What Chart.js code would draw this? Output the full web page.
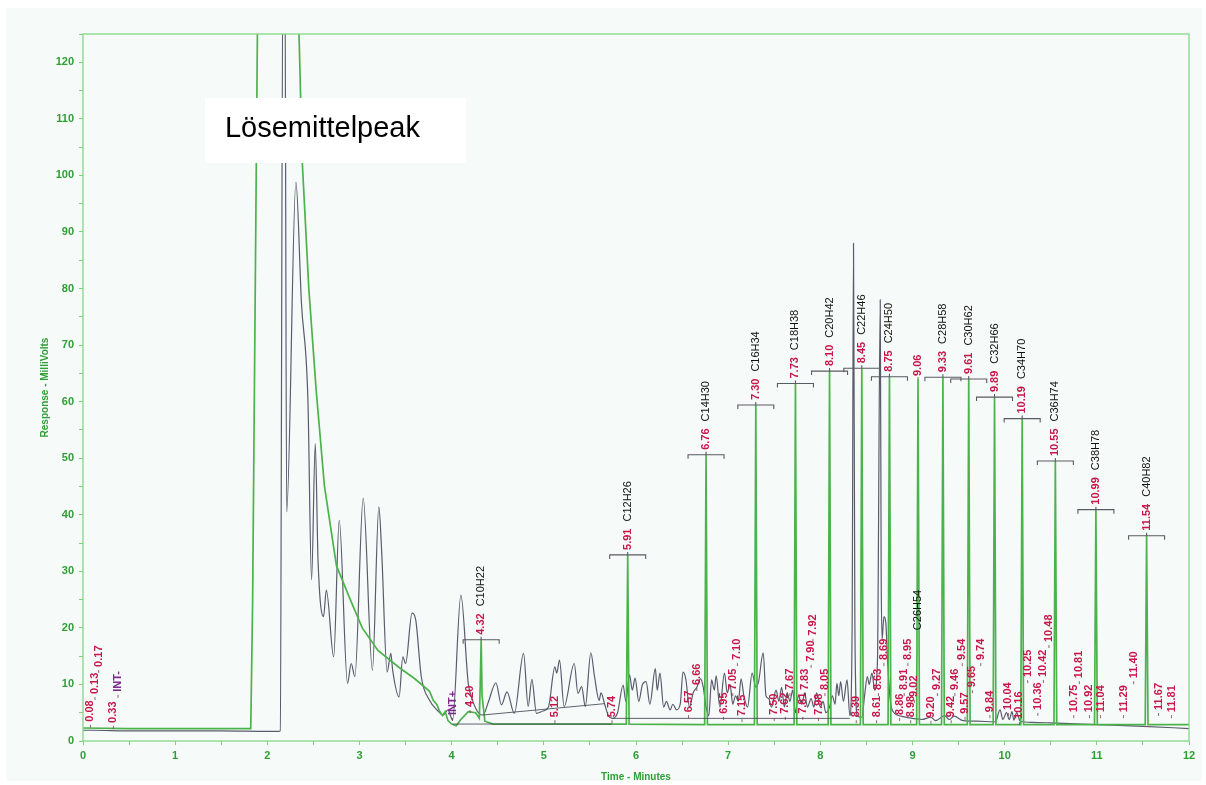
<!DOCTYPE html>
<html><head><meta charset="utf-8">
<script src="https://cdn.jsdelivr.net/npm/chart.js@4.4.1/dist/chart.umd.min.js"></script>
<style>html,body{margin:0;padding:0;background:#fff;}#wrap{width:1206px;height:785px;}</style>
</head><body><div id="wrap"><canvas id="c" width="1206" height="785"></canvas></div>
<script>
// ---------- DATA ----------
// sample chromatogram (dark trace): time in minutes, response in mV
const sampleTime = [0,0.1,0.5,1.0,1.5,2.0,2.12,2.14,2.17,2.19,2.21,2.31,2.37,2.44,2.48,2.52,2.55,2.61,2.64,2.72,2.78,2.87,2.91,2.95,3.04,3.14,3.21,3.24,3.30,3.34,3.36,3.43,3.47,3.50,3.57,3.61,3.67,3.76,3.84,3.91,3.96,4.01,4.10,4.18,4.22,4.30,4.34,4.40,4.48,4.54,4.60,4.68,4.78,4.83,4.87,4.92,4.99,5.05,5.12,5.14,5.17,5.22,5.33,5.37,5.41,5.45,5.51,5.55,5.60,5.62,5.66,5.70,5.74,5.80,5.86,5.89,5.93,5.96,5.99,6.03,6.07,6.11,6.15,6.21,6.23,6.26,6.30,6.33,6.37,6.40,6.44,6.48,6.51,6.54,6.58,6.62,6.66,6.70,6.73,6.76,6.79,6.82,6.85,6.87,6.91,6.96,6.99,7.02,7.05,7.08,7.11,7.14,7.17,7.21,7.26,7.30,7.33,7.38,7.41,7.44,7.47,7.52,7.55,7.58,7.61,7.64,7.67,7.70,7.73,7.76,7.80,7.83,7.86,7.90,7.93,7.96,8.00,8.03,8.06,8.10,8.13,8.16,8.18,8.20,8.22,8.25,8.29,8.32,8.345,8.36,8.375,8.40,8.45,8.48,8.51,8.53,8.56,8.59,8.62,8.65,8.66,8.67,8.69,8.71,8.73,8.76,8.80,8.85,8.90,9.00,9.10,9.20,9.25,9.35,9.40,9.45,9.55,9.70,9.90,9.95,9.98,10.02,10.05,10.08,10.10,10.13,10.17,10.30,10.50,11.00,11.50,12.00];
const sampleMV   = [1.9,1.9,1.8,1.8,1.8,1.7,1.7,1.8,140,140,40.5,98.8,77.5,60.5,28.5,52.6,32,22,26.7,14.9,39,10.2,13.7,11.4,42.9,12.5,41.4,33.7,12.2,15.5,12.5,7.8,14.9,13.7,22.6,21.4,11.4,7.2,5.5,4.6,5.5,3.7,25.8,10.2,7.5,4.8,4.6,7,10.3,6.4,8.7,4.9,15.5,6.1,10.9,4.9,5.3,6,13.1,12,14.3,6.1,13.7,8.4,9.6,6.1,15.6,11.4,7.2,8.5,6.5,4.5,4.0,5.0,9.9,7,11.7,9,11.1,7,10,10.5,6.5,12.8,9,12,6,7,5.5,6.5,5.5,6.5,12.2,11,6,8.5,9.5,11,9.5,6,4.5,10.8,9,11.5,6,12,8.5,10,6.5,8,7,11,8,6,12,9.5,10.5,15.6,8,7.5,6,9,7,9.5,6,8.5,7,9,5,8,6.5,8.5,6,7.5,6,8.5,6,7,5,6,8,6.5,10.2,8,10.5,7,10.8,4.5,20,88,20,4.5,4.2,8,11.4,10,12,9,14.3,78,30,18,22,21,14,7,5,4.5,4.3,4.0,3.8,4.2,3.6,4.5,3.8,4.4,3.6,3.5,3.4,5.5,3.8,5,3.8,5.2,3.7,5.0,3.5,3.3,3.2,2.9,2.6,2.2];

// n-alkane standard (green trace)
const standardTime = [0,0.5,1.0,1.5,1.82,1.84,1.90,2.32,2.38,2.45,2.53,2.62,2.75,2.90,3.03,3.20,3.43,3.60,3.76,3.80,3.84,3.87,3.90,3.93,3.96,4.00,4.05,4.10,4.18,4.26,4.30,4.31,4.32,4.33,4.36,4.45,5.0,5.5,5.895,5.91,5.925,6.745,6.76,6.775,7.285,7.30,7.315,7.715,7.73,7.745,8.085,8.10,8.115,8.435,8.45,8.465,8.735,8.75,8.765,9.045,9.06,9.075,9.315,9.33,9.345,9.595,9.61,9.625,9.875,9.89,9.905,10.175,10.19,10.205,10.535,10.55,10.565,10.975,10.99,11.005,11.525,11.54,11.555,12.0];
const standardMV   = [2.3,2.2,2.2,2.2,2.2,24,140,140,102,80,62,45,31,25,20,16,13,11,8.8,7.2,6.4,5.2,4.5,5.2,3.6,3.0,2.7,3.8,5.2,5.0,4.0,10,17.9,8,3.5,3.0,3.0,3.0,3.0,32.9,3.0,2.9,50.6,2.9,2.9,59.4,2.9,2.9,63.2,2.9,2.9,65.4,2.9,2.9,65.9,2.9,2.9,64.4,2.9,2.9,64.0,2.9,2.9,64.3,2.9,2.9,64.0,2.9,2.9,60.8,2.9,2.9,57.0,2.9,2.9,49.5,2.9,2.9,40.9,2.9,2.9,36.3,2.9,2.9];

// integration baselines (null = break)
const baselineTime = [4.01,5.74,null,4.34,5.66,null,5.74,8.32];
const baselineMV   = [3.0,3.0,null,4.6,6.6,null,4.0,4.0];

// identified n-alkane peaks
const alkaneRT   = [4.32,5.91,6.76,7.30,7.73,8.10,8.45,8.75,9.06,9.33,9.61,9.89,10.19,10.55,10.99,11.54];
const alkaneTop  = [17.9,32.9,50.6,59.4,63.2,65.4,65.9,64.4,64.0,64.3,64.0,60.8,57.0,49.5,40.9,36.3];
const alkaneName = ['C10H22','C12H26','C14H30','C16H34','C18H38','C20H42','C22H46','C24H50','C26H54','C28H58','C30H62','C32H66','C34H70','C36H74','C38H78','C40H82'];
const alkaneBracket = [1,1,1,1,1,1,1,1,0,1,1,1,1,1,1,1];
const alkaneNameAt  = [null,null,null,null,null,null,null,null,19.6,null,null,null,null,null,null,null];

// other peak / event labels: text, time, label foot (mV)
const peakText = ['0.08','0.13','0.17','0.33','INT-','INT+','4.20','5.12','5.74','6.57','6.66','6.95','7.05','7.10','7.15','7.50','7.62','7.67','7.81','7.83','7.90','7.92','7.98','8.05','8.39','8.61','8.63','8.69','8.86','8.91','8.95','8.98','9.02','9.20','9.27','9.42','9.46','9.54','9.57','9.65','9.74','9.84','10.04','10.16','10.25','10.36','10.42','10.48','10.75','10.81','10.92','11.04','11.29','11.40','11.67','11.81'];
const peakTime = [0.08,0.13,0.17,0.33,0.38,4.01,4.20,5.12,5.74,6.57,6.66,6.95,7.05,7.10,7.15,7.50,7.62,7.67,7.81,7.83,7.90,7.92,7.98,8.05,8.39,8.61,8.63,8.69,8.86,8.91,8.95,8.98,9.02,9.20,9.27,9.42,9.46,9.54,9.57,9.65,9.74,9.84,10.04,10.16,10.25,10.36,10.42,10.48,10.75,10.81,10.92,11.04,11.29,11.40,11.67,11.81];
const peakAt = [3.4,8.3,13.1,3.2,8.7,4.6,6.0,4.2,4.2,5.1,9.9,4.8,9.0,14.3,4.4,4.6,4.8,9.0,4.8,9.0,14.0,18.6,4.6,9.0,4.2,4.2,9.0,14.3,4.6,9.0,14.3,4.2,7.8,4.1,9.0,4.2,9.0,14.3,4.8,9.5,14.3,5.1,5.5,3.9,11.3,5.5,11.3,17.5,5.1,11.1,5.1,5.1,5.1,11.1,5.5,5.1];

const xTicks = [0,1,2,3,4,5,6,7,8,9,10,11,12];
const yTicks = [0,10,20,30,40,50,60,70,80,90,100,110,120];

// ---------- CHART ----------
const FONT = "'Liberation Sans', Arial, sans-serif";
const GREEN_AX = '#2f9e35';
const RED = '#c8174b';
const PURPLE = '#7d2a8c';

function pts(t, v){ return t.map((x,i)=> x===null ? {x:null,y:null} : {x:x, y:v[i]}); }

const annot = {
  id: 'annot',
  beforeDraw(chart){
    const {ctx} = chart;
    ctx.save();
    ctx.fillStyle = '#ffffff';
    ctx.fillRect(0,0,chart.width,chart.height);
    ctx.fillStyle = 'rgb(246,251,250)';
    ctx.fillRect(6,8,chart.width-10,chart.height-12);
    ctx.restore();
  },
  afterDatasetsDraw(chart){
    const {ctx, scales:{x, y}, chartArea:a} = chart;
    ctx.save();
    ctx.strokeStyle = '#86d686';
    ctx.lineWidth = 1.3;
    ctx.strokeRect(a.left, a.top, a.right-a.left, a.bottom-a.top);

    function vtext(str, px, foot, font, color){
      ctx.save();
      ctx.translate(px, foot);
      ctx.rotate(-Math.PI/2);
      ctx.font = font;
      ctx.fillStyle = color;
      ctx.textAlign = 'left';
      ctx.textBaseline = 'middle';
      ctx.fillText(str, 0, 0);
      const w = ctx.measureText(str).width;
      ctx.restore();
      return w;
    }
    const redFont = 'bold 11px ' + FONT;
    const nameFont = '11px ' + FONT;

    peakText.forEach((s,i)=>{
      const px = x.getPixelForValue(peakTime[i]);
      const py = y.getPixelForValue(peakAt[i]);
      const col = s.startsWith('INT') ? PURPLE : RED;
      vtext(s, px, py, redFont, col);
      ctx.strokeStyle = 'rgba(120,60,80,0.8)';
      ctx.lineWidth = 1;
      ctx.beginPath(); ctx.moveTo(px, py+3); ctx.lineTo(px, py+6); ctx.stroke();
    });

    alkaneRT.forEach((rt,i)=>{
      const px = x.getPixelForValue(rt);
      const py = y.getPixelForValue(alkaneTop[i]);
      let foot;
      if (alkaneBracket[i]) {
        ctx.strokeStyle = '#5a5a62';
        ctx.lineWidth = 1.1;
        ctx.beginPath();
        ctx.moveTo(px-18, py+4); ctx.lineTo(px-18, py); ctx.lineTo(px+18, py); ctx.lineTo(px+18, py+4);
        ctx.moveTo(px, py); ctx.lineTo(px, py-3);
        ctx.stroke();
        foot = py - 5;
      } else {
        foot = py - 3;
        ctx.strokeStyle = 'rgba(120,60,80,0.8)';
        ctx.lineWidth = 1;
        ctx.beginPath(); ctx.moveTo(px, py); ctx.lineTo(px, py-2); ctx.stroke();
      }
      const w = vtext(rt.toFixed(2), px, foot, redFont, RED);
      let nfoot = alkaneNameAt[i] === null ? foot - w - 7 : y.getPixelForValue(alkaneNameAt[i]);
      vtext(alkaneName[i], px, nfoot, nameFont, '#111');
    });

    const bx0 = x.getPixelForValue(1.324), bx1 = x.getPixelForValue(4.155);
    const by0 = y.getPixelForValue(113.7), by1 = y.getPixelForValue(102.2);
    ctx.fillStyle = '#ffffff';
    ctx.fillRect(bx0, by0, bx1-bx0, by1-by0);
    ctx.fillStyle = '#000';
    ctx.font = '29px ' + FONT;
    ctx.textAlign = 'left';
    ctx.textBaseline = 'alphabetic';
    ctx.fillText('Lösemittelpeak', x.getPixelForValue(1.54), y.getPixelForValue(106.8));
    ctx.restore();
  }
};

new Chart(document.getElementById('c'), {
  type: 'scatter',
  data: {
    datasets: [
      { label:'baseline', data: pts(baselineTime, baselineMV), showLine:true, spanGaps:false,
        borderColor:'rgba(70,70,85,0.85)', borderWidth:1, pointRadius:0, tension:0 },
      { label:'standard', data: pts(standardTime, standardMV), showLine:true,
        borderColor:'#4cb24c', borderWidth:1.7, pointRadius:0, tension:0 },
      { label:'sample', data: pts(sampleTime, sampleMV), showLine:true,
        borderColor:'rgba(62,62,82,0.85)', borderWidth:1.2, pointRadius:0, cubicInterpolationMode:'monotone' }
    ]
  },
  options: {
    responsive:false, animation:false, devicePixelRatio:1,
    layout:{ padding:{ top:34, right:17, left:0, bottom:0 } },
    plugins:{ legend:{display:false}, tooltip:{enabled:false} },
    scales:{
      x:{ type:'linear', min:0, max:12,
        afterFit: s => { s.height = 44; },
        border:{ display:false },
        grid:{ drawOnChartArea:false, drawTicks:true, tickLength:4, color:'#7fcf7f' },
        ticks:{ stepSize:0.5, autoSkip:false, maxRotation:0, padding:4, color:GREEN_AX,
          font:{ family:FONT, size:11, weight:'bold' },
          callback: v => xTicks.includes(v) ? String(v) : '' },
        title:{ display:true, text:'Time - Minutes', color:GREEN_AX,
          font:{ family:FONT, size:10, weight:'bold' }, padding:{top:0, bottom:2} }
      },
      y:{ type:'linear', min:0, max:125,
        afterFit: s => { s.width = 83; },
        border:{ display:false },
        grid:{ drawOnChartArea:false, drawTicks:true, tickLength:4, color:'#7fcf7f' },
        ticks:{ stepSize:5, autoSkip:false, padding:5, color:GREEN_AX,
          font:{ family:FONT, size:11, weight:'bold' },
          callback: v => yTicks.includes(v) ? String(v) : '' },
        title:{ display:true, text:'Response - MilliVolts', color:GREEN_AX,
          font:{ family:FONT, size:10, weight:'bold' }, padding:{top:39, bottom:0} }
      }
    }
  },
  plugins:[annot]
});
</script></body></html>
